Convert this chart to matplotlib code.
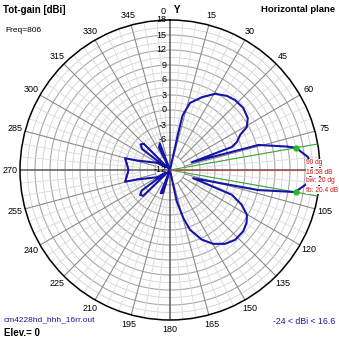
import numpy as np
import matplotlib
matplotlib.use("Agg")
import matplotlib.pyplot as plt

# ---------------- data ----------------
angles_deg = [0.0, 9.0, 12.5, 13.0, 16.6, 23.7, 30.6, 37.6, 42.9, 49.7, 56.3, 60.8,
              63.4, 67.3, 69.6, 70.5, 74.2, 78.7, 80.0, 84.6, 90.0, 95.4, 100.0,
              102.8, 109.5, 111.8, 115.8, 120.2, 124.6, 129.9, 137.0, 143.4, 149.7,
              155.5, 161.5, 164.5, 167.9, 171.0, 193.0, 197.0, 202.0, 207.0, 222.0,
              226.0, 230.0, 234.0, 238.0, 241.0, 253.6, 255.4, 262.0, 270.0, 278.0,
              284.6, 286.4, 298.8, 303.0, 307.0, 311.0, 315.0, 319.0, 330.0, 334.0,
              339.0, 344.0, 360.0]
gain_dbi = [-12.0, -12.0, -4.5, -0.8, 2.0, 3.9, 5.7, 6.7, 7.1, 7.2, 6.7, 5.6,
            3.7, 2.5, 1.2, -7.4, 6.4, 11.9, 13.58, 15.7, 16.58, 15.7, 13.4,
            6.1, -7.1, 1.3, 3.9, 5.8, 6.6, 7.1, 7.1, 6.4, 5.1,
            3.3, 0.6, -2.0, -5.6, -12.0, -12.0, -7.2, -7.0, -12.0, -12.0,
            -4.6, -4.2, -5.0, -11.0, -9.0, -5.4, -2.7, -3.3, -3.7, -3.3,
            -2.7, -5.4, -9.0, -11.0, -5.0, -4.2, -4.6, -12.0, -12.0, -7.0,
            -6.3, -12.0, -12.0]

r_ticks = [18, 15, 12, 9, 6, 3, 0, -3, -6, -12]
angle_ticks = [15, 30, 45, 60, 75, 105, 120, 135, 150, 165, 180, 195, 210,
               225, 240, 255, 270, 285, 300, 315, 330, 345]
max_dir = 90.0
max_gain = 16.58
bw_edges = [80.0, 100.0]
half_power = 13.58
r_min, r_max = -12.0, 18.0

# ---------------- figure ----------------
W = H = 339
fig = plt.figure(figsize=(W / 100, H / 100), dpi=100)
fig.patch.set_facecolor("white")
cx, cy, R = 170, 170, 150
ax = fig.add_axes([(cx - R) / W, (H - cy - R) / H, 2 * R / W, 2 * R / H],
                  projection="polar")
ax.set_theta_zero_location("N")
ax.set_theta_direction(-1)
ax.set_rlim(r_min, r_max)
ax.grid(False)
ax.set_xticks([])
ax.set_yticks([])
ax.spines["polar"].set_color("black")
ax.spines["polar"].set_linewidth(1.1)
ax.set_facecolor("white")

th_full = np.linspace(0, 2 * np.pi, 361)
# rings
for v in np.arange(-10.5, 18.0, 1.5):
    major = abs((v + 12) % 3) < 1e-6
    ax.plot(th_full, np.full_like(th_full, v),
            color="#a8a8a8" if major else "#d2d2d2",
            lw=0.8 if major else 0.6, zorder=1)
# radials
for a in range(0, 360, 5):
    t = np.deg2rad(a)
    if a % 90 == 0:
        ax.plot([t, t], [r_min, r_max], color="#5a5a5a", lw=1.1, zorder=2)
    elif a % 15 == 0:
        ax.plot([t, t], [-9, r_max], color="#8c8c8c", lw=0.8, zorder=1.5)
    else:
        ax.plot([t, t], [-6, r_max], color="#dadada", lw=0.6, zorder=1)

# beamwidth / max lines
for b in bw_edges:
    ax.plot([np.deg2rad(b)] * 2, [r_min, r_max], color="#3aa63a", lw=0.8, zorder=3)
ax.plot([np.deg2rad(max_dir)] * 2, [r_min, r_max], color="#c05050", lw=0.8, zorder=6)

# pattern
th = np.deg2rad(angles_deg)
rr = np.clip(gain_dbi, r_min, r_max)
ax.plot(th, rr, color="#1414a8", lw=1.5, zorder=4)
ax.plot(np.deg2rad(bw_edges), [half_power] * 2, "o", color="#22bb22",
        ms=3.5, zorder=5)

fs = 6.5
font = "Liberation Sans"
# angle labels
for a in angle_ticks:
    ax.text(np.deg2rad(a), 20.0, str(a), ha="center", va="center",
            fontsize=fs, family=font, clip_on=False)
fig.text(163 / W, 1 - 11 / H, "0", ha="center", va="center", fontsize=fs, family=font)
fig.text(177 / W, 1 - 10 / H, "Y", ha="center", va="center", fontsize=7,
         family=font, weight="bold")
# radial labels
for v in r_ticks:
    ax.annotate(str(v), xy=(0, v), xytext=(-2.5, 0), textcoords="offset points",
                ha="right", va="center", fontsize=fs, family=font, zorder=7)

# info texts
fig.text(3 / W, 1 - 10 / H, "Tot-gain [dBi]", ha="left", va="center",
         fontsize=7, family=font, weight="bold")
fig.text(335 / W, 1 - 10 / H, "Horizontal plane", ha="right", va="center",
         fontsize=6.8, family=font, weight="bold")
fig.text(5 / W, 1 - 30 / H, "Freq=806", ha="left", va="center",
         fontsize=6, family=font)
fig.text(4 / W, 1 - 320 / H, "cm4228hd_hhh_16rr.out", ha="left", va="center",
         fontsize=6, family=font, color="#1a1aa0")
fig.text(4 / W, 1 - 333 / H, "Elev.= 0", ha="left", va="center",
         fontsize=7, family=font, weight="bold")
fig.text(335 / W, 1 - 322 / H, "-24 < dBi < 16.6", ha="right", va="center",
         fontsize=6.3, family=font, color="#1a1aa0")

red_lines = ["90 dg", f"{max_gain:.2f} dB", "bw: 20 dg", "fb: 20.4 dB"]
for i, s in enumerate(red_lines):
    fig.text(306 / W, 1 - (163 + 9 * i) / H, s, ha="left", va="center",
             fontsize=4.8, family=font, color="#d01010",
             bbox=dict(facecolor="white", edgecolor="none", pad=0.3), zorder=5)

fig.savefig("out.png", dpi=100, facecolor="white")
